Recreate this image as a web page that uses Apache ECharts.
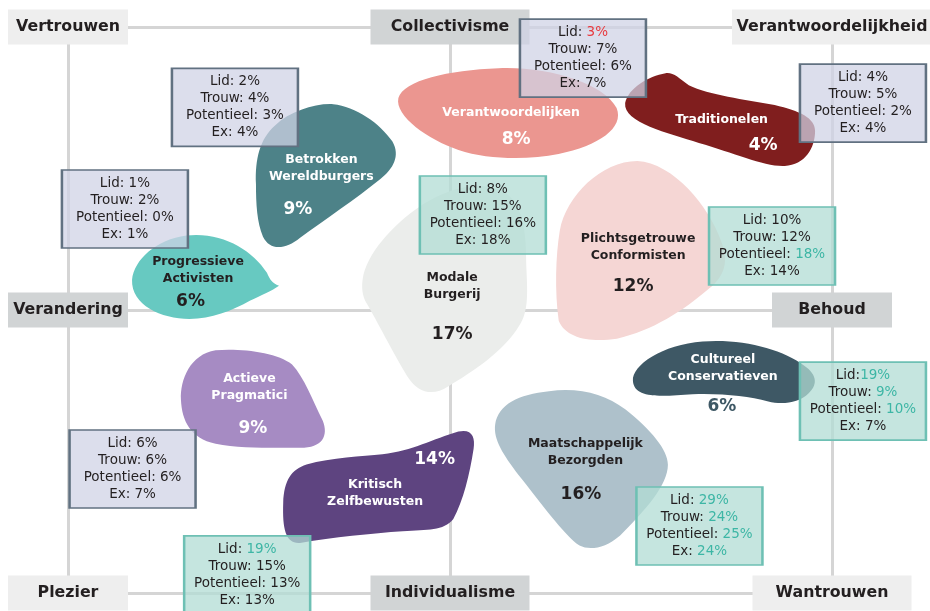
<!DOCTYPE html>
<html>
<head>
<meta charset="utf-8">
<script src="https://cdn.jsdelivr.net/npm/echarts@6/dist/echarts.min.js"></script>
<style>
  html, body { margin: 0; padding: 0; background: #fff; }
  #chart { width: 930px; height: 611px; }
</style>
</head>
<body>
<div id="chart"></div>
<script>
// segment map: x = Verandering (-100) .. Behoud (100), y = Individualisme (-100) .. Collectivisme (100)
const segments = ["Verantwoordelijken", "Traditionelen", "Betrokken Wereldburgers", "Progressieve Activisten",
  "Modale Burgerij", "Plichtsgetrouwe Conformisten", "Cultureel Conservatieven", "Actieve Pragmatici",
  "Kritisch Zelfbewusten", "Maatschappelijk Bezorgden"];
const share = [8, 4, 9, 6, 17, 12, 6, 9, 14, 16];
const segX = [15.2, 70.7, -32.5, -64.0, -1.4, 49.9, 71.7, -51.6, -18.7, 34.4];
const segY = [69.6, 67.3, 47.5, 11.7, 7.4, 21.0, -21.9, -31.4, -62.5, -56.2];

const lid = [3, 4, 2, 1, 8, 10, 19, 6, 19, 29];
const trouw = [7, 5, 4, 2, 15, 12, 9, 6, 15, 24];
const potentieel = [6, 2, 3, 0, 16, 18, 10, 6, 13, 25];
const ex = [7, 4, 4, 1, 18, 14, 7, 7, 13, 24];
// + = boven gemiddeld, - = onder
const lidFlag = ["-", "", "", "", "", "", "+", "", "+", "+"];
const trouwFlag = ["", "", "", "", "", "", "+", "", "", "+"];
const potFlag = ["", "", "", "", "", "+", "+", "", "", "+"];
const exFlag = ["", "", "", "", "", "", "", "", "", "+"];
const boxKind = ["A", "A", "A", "A", "B", "B", "B", "A", "B", "B"];

const poles = ["Vertrouwen", "Collectivisme", "Verantwoordelijkheid", "Verandering", "Behoud",
  "Plezier", "Individualisme", "Wantrouwen"];
const poleX = [-100, 0, 100, -100, 100, -100, 0, 100];
const poleY = [100, 100, 100, 0, 0, -100, -100, -100];

// layout: where each info box sits on the map
const boxX = [34.8, 108.1, -56.3, -85.1, 8.6, 84.3, 108.1, -83.1, -53.1, 65.3];
const boxY = [89.0, 73.1, 71.6, 35.7, 33.6, 22.6, -32.2, -56.2, -93.6, -76.3];

const segColor = ["#eb9690", "#801e1e", "#4d8288", "#67c9c1", "#ebedeb", "#f5d6d4", "#3e5865", "#a68bc3", "#5e4480", "#aec1cb"];
const nameColor = ["#fff", "#fff", "#fff", "#231f20", "#231f20", "#231f20", "#fff", "#fff", "#fff", "#231f20"];
const pctColor = ["#fff", "#fff", "#fff", "#231f20", "#231f20", "#231f20", "#3e5865", "#fff", "#fff", "#231f20"];

const blobs = [
  { size: [220, 90], name: [3, 0], pct: [8, 27],
    path: "M0,30 C5,12 50,2 100,0 C150,-2 205,15 218,40 C226,60 200,78 160,86 C130,92 90,92 60,82 C30,72 -4,48 0,30 Z" },
  { size: [190, 93], name: [1.5, 0.5], pct: [43, 26.5],
    path: "M2,30 C5,15 25,3 42,0 C50,-1 55,5 65,12 C85,22 120,26 150,32 C175,38 190,45 190,58 C190,75 180,92 160,93 C140,94 110,80 75,70 C45,60 0,50 2,30 Z" },
  { size: [140, 143], name: [-4.5, -7], pct: [-28, 34.5],
    path: "M1,80 C0,55 5,35 20,22 C35,8 60,0 78,1 C100,3 125,20 137,38 C145,52 138,65 125,75 C100,95 70,115 45,133 C30,145 15,146 8,132 C2,118 1,100 1,80 Z" },
  { size: [147, 84], name: [-7.5, -7], pct: [-15, 25],
    path: "M1,45 C3,25 25,5 55,1 C90,-3 120,15 135,38 C138,45 140,48 147,51 C140,56 130,60 118,66 C100,76 80,84 58,84 C30,84 0,70 1,45 Z" },
  { size: [165, 206], name: [7.5, -2.5], pct: [7.5, 46],
    path: "M1,94 C4,70 30,40 60,20 C85,5 110,-3 135,5 C160,15 162,50 162,80 C163,105 165,125 155,140 C140,165 110,185 85,200 C70,210 55,206 45,190 C30,165 15,135 5,118 C0,110 0,100 1,94 Z" },
  { size: [169, 179], name: [-2.5, -3], pct: [-7.5, 36.5],
    path: "M4,70 C10,35 45,0 80,0 C115,2 150,45 162,80 C170,100 166,115 150,128 C125,150 95,170 60,178 C35,182 10,178 3,160 C-1,130 0,95 4,70 Z" },
  { size: [182, 62], name: [-1, -3.5], pct: [-2, 35],
    path: "M1,40 C0,25 30,5 70,2 C110,-1 150,10 170,25 C185,35 183,45 175,52 C165,62 148,63 135,60 C115,55 90,52 60,53 C30,55 2,58 1,40 Z" },
  { size: [144, 98], name: [-3.5, -11.5], pct: [0, 30],
    path: "M1,50 C0,30 10,5 35,1 C60,-1 95,3 110,15 C122,28 130,50 140,70 C146,85 140,97 118,97 C95,97 60,98 35,93 C10,88 2,70 1,50 Z" },
  { size: [191, 112], name: [-3.5, 6.5], pct: [56, -27],
    path: "M2,72 C3,50 10,40 25,35 C50,28 80,27 100,25 C130,22 150,10 175,3 C188,0 192,8 190,20 C186,45 180,70 170,88 C160,100 145,98 120,100 C90,102 50,106 20,111 C5,113 1,100 2,72 Z" },
  { size: [173, 158], name: [4, -17], pct: [-0.5, 26],
    path: "M2,35 C5,15 25,5 55,2 C85,-2 110,5 130,20 C155,40 172,60 172,75 C172,95 150,120 125,145 C110,158 95,160 85,155 C70,145 45,110 25,85 C10,65 0,50 2,35 Z" }
];

const poleWidth = [120, 159, 200, 120, 120, 120, 159, 159];
const poleFill = ["#eeeeee", "#d1d4d5", "#eeeeee", "#d1d4d5", "#d1d4d5", "#eeeeee", "#d1d4d5", "#eeeeee"];

const FONT = "DejaVu Sans";
const INK = "#231f20";

function tag(flag) {
  return flag === "+" ? "up" : flag === "-" ? "down" : "t";
}
function boxText(i) {
  const lidLabel = segments[i] === "Cultureel Conservatieven" ? "Lid:" : "Lid: ";
  return [
    "{t|" + lidLabel + "}{" + tag(lidFlag[i]) + "|" + lid[i] + "%}",
    "{t|Trouw: }{" + tag(trouwFlag[i]) + "|" + trouw[i] + "%}",
    "{t|Potentieel: }{" + tag(potFlag[i]) + "|" + potentieel[i] + "%}",
    "{t|Ex: }{" + tag(exFlag[i]) + "|" + ex[i] + "%}"
  ].join("\n");
}

const chart = echarts.init(document.getElementById("chart"));

const hiddenAxis = {
  type: "value",
  min: -100,
  max: 100,
  interval: 100,
  axisLine: { show: false },
  axisTick: { show: false },
  axisLabel: { show: false },
  splitLine: { show: true, lineStyle: { color: "#d5d5d5", width: 3 } }
};

const option = {
  animation: false,
  backgroundColor: "#fff",
  grid: { left: 68, right: 98, top: 27, bottom: 18 },
  xAxis: hiddenAxis,
  yAxis: hiddenAxis,
  series: [
    {
      type: "scatter",
      clip: false,
      silent: true,
      z: 2,
      data: segments.map((s, i) => ({
        name: s,
        value: [segX[i], segY[i]],
        symbol: "path://" + blobs[i].path,
        symbolSize: blobs[i].size,
        itemStyle: { color: segColor[i], opacity: 1 },
        label: {
          show: true,
          position: "inside",
          offset: blobs[i].name,
          formatter: s.replace(" ", "\n"),
          color: nameColor[i],
          fontFamily: FONT,
          fontWeight: "bold",
          fontSize: 12.5,
          lineHeight: 17
        }
      }))
    },
    {
      type: "scatter",
      clip: false,
      silent: true,
      z: 3,
      symbolSize: 0,
      itemStyle: { color: "rgba(0,0,0,0)", opacity: 1 },
      data: segments.map((s, i) => ({
        name: s,
        value: [segX[i], segY[i]],
        label: {
          show: true,
          position: "inside",
          offset: blobs[i].pct,
          formatter: share[i] + "%",
          color: pctColor[i],
          fontFamily: FONT,
          fontWeight: "bold",
          fontSize: 17
        }
      }))
    },
    {
      type: "scatter",
      clip: false,
      silent: true,
      z: 4,
      symbol: "rect",
      data: poles.map((p, i) => ({
        name: p,
        value: [poleX[i], poleY[i]],
        symbolSize: [poleWidth[i], 35],
        itemStyle: { color: poleFill[i], opacity: 1 },
        label: {
          show: true,
          position: "inside",
          formatter: p,
          color: INK,
          fontFamily: FONT,
          fontWeight: "bold",
          fontSize: 15.8
        }
      }))
    },
    {
      type: "scatter",
      clip: false,
      silent: true,
      z: 5,
      symbol: "rect",
      symbolSize: [126, 78],
      data: segments.map((s, i) => ({
        name: s,
        value: [boxX[i], boxY[i]],
        itemStyle: boxKind[i] === "A"
          ? { color: "rgba(208,210,229,0.74)", borderColor: "#617181", borderWidth: 2, opacity: 1 }
          : { color: "rgba(178,220,212,0.75)", borderColor: "#6ec0b4", borderWidth: 2, opacity: 1 },
        label: {
          show: true,
          position: "inside",
          formatter: boxText(i),
          rich: {
            t: { color: INK, fontFamily: FONT, fontSize: 13.5, lineHeight: 17 },
            up: { color: "#3db6a5", fontFamily: FONT, fontSize: 13.5, lineHeight: 17 },
            down: { color: "#e83a3f", fontFamily: FONT, fontSize: 13.5, lineHeight: 17 }
          }
        }
      }))
    }
  ]
};

chart.setOption(option);
window.addEventListener("resize", () => chart.resize());
</script>
</body>
</html>
